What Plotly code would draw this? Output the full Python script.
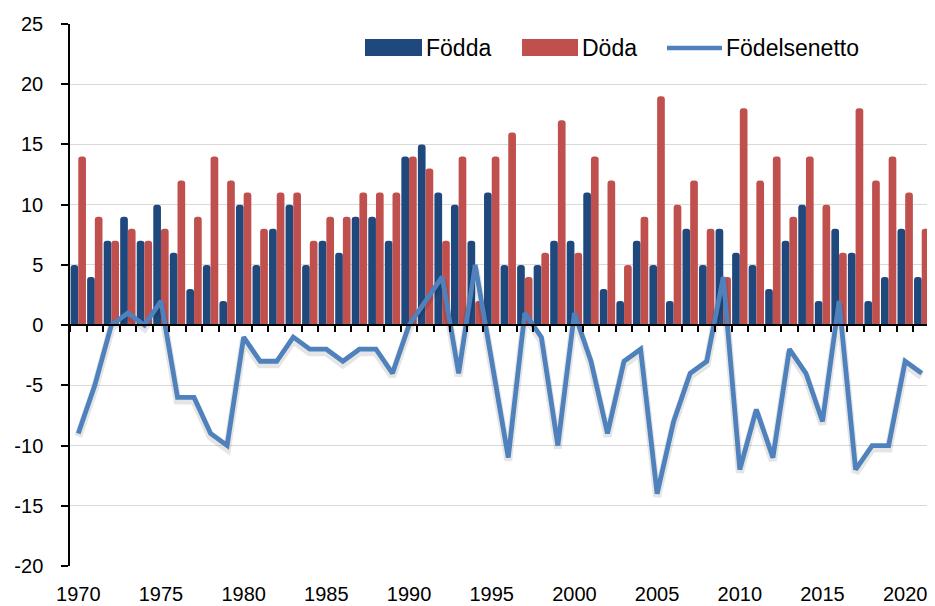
import plotly.graph_objects as go

years = list(range(1970, 2022))
fodda = [5, 4, 7, 9, 7, 10, 6, 3, 5, 2,
         10, 5, 8, 10, 5, 7, 6, 9, 9, 7,
         14, 15, 11, 10, 7, 11, 5, 5, 5, 7,
         7, 11, 3, 2, 7, 5, 2, 8, 5, 8,
         6, 5, 3, 7, 10, 2, 8, 6, 2, 4,
         8, 4]
doda = [14, 9, 7, 8, 7, 8, 12, 9, 14, 12,
        11, 8, 11, 11, 7, 9, 9, 11, 11, 11,
        14, 13, 7, 14, 2, 14, 16, 4, 6, 17,
        6, 14, 12, 5, 9, 19, 10, 12, 8, 4,
        18, 12, 14, 9, 14, 10, 6, 18, 12, 14,
        11, 8]
netto = [-9, -5, 0, 1, 0, 2, -6, -6, -9, -10,
         -1, -3, -3, -1, -2, -2, -3, -2, -2, -4,
         0, 2, 4, -4, 5, -3, -11, 1, -1, -10,
         1, -3, -9, -3, -2, -14, -8, -4, -3, 4,
         -12, -7, -11, -2, -4, -8, 2, -12, -10, -10,
         -3, -4]
label_years = list(range(1970, 2021, 5))
y_ticks = list(range(-20, 26, 5))
y_ticktext = [str(v) for v in y_ticks]  # plain hyphen minus as in the reference

C_FODDA = "#1F497D"
C_DODA = "#C0504D"
C_NETTO = "#4F81BD"
FONT = "Liberation Sans, Arial, sans-serif"

fig = go.Figure()
fig.add_trace(go.Bar(x=years, y=fodda, name="Födda", marker=dict(color=C_FODDA, cornerradius=3, line_width=0),
                     showlegend=False))
fig.add_trace(go.Bar(x=years, y=doda, name="Döda", marker=dict(color=C_DODA, cornerradius=3, line_width=0),
                     showlegend=False))
# soft shadow under line
fig.add_trace(go.Scatter(x=years, y=[v - 0.25 for v in netto], mode="lines",
                         line=dict(color="rgba(0,0,0,0.10)", width=8), hoverinfo="skip", showlegend=False))
fig.add_trace(go.Scatter(x=years, y=netto, mode="lines", name="Födelsenetto",
                         line=dict(color=C_NETTO, width=4.8), showlegend=False))
# helper invisible trace for the zero-crossing category axis
fig.add_trace(go.Scatter(x=[years[0], years[-1]], y=[0, 0], xaxis="x2", mode="markers",
                         marker=dict(opacity=0), hoverinfo="skip", showlegend=False))

xr = [years[0] - 0.5, years[-1] + 0.5]
ymin, ymax = -20, 25

# page body has an 8px default margin; figure sized so plot area lands at x 70..930, y 24..566
W, H = 927, 598
ML, MR, MT, MB = 62, 5, 16, 40

fig.update_layout(
    width=W, height=H,
    margin=dict(l=ML, r=MR, t=MT, b=MB, autoexpand=False),
    paper_bgcolor="white", plot_bgcolor="white",
    barmode="group", bargap=0.07, bargroupgap=0.0,
    font=dict(family=FONT, size=20, color="black"),
    xaxis=dict(range=xr, tickvals=label_years, ticktext=[str(y) for y in label_years],
               showline=False, showgrid=False, zeroline=False, ticks="",
               tickfont=dict(size=20), ticklabelstandoff=14),
    xaxis2=dict(range=xr, overlaying="x", anchor="free", position=(0 - ymin) / (ymax - ymin),
                tickvals=[y - 0.5 for y in years] + [years[-1] + 0.5], showticklabels=False,
                ticks="outside", ticklen=6, tickwidth=1.5, tickcolor="black",
                showline=True, linecolor="black", linewidth=1.5, showgrid=False, zeroline=False),
    yaxis=dict(range=[ymin, ymax], tickvals=y_ticks, ticktext=y_ticktext,
               showgrid=True, gridcolor="#D9D9D9", gridwidth=1,
               zeroline=False, showline=True, linecolor="black", linewidth=1.5,
               ticks="outside", ticklen=7, tickwidth=1.5, tickcolor="black",
               tickfont=dict(size=20), ticklabelstandoff=14),
)

# custom legend (paper coordinates relative to plot area, in screen pixels)
PX0, PX1, PY0, PY1 = 70, 930, 24, 566

def px_x(p):
    return (p - PX0) / (PX1 - PX0)

def px_y(p):
    return (PY1 - p) / (PY1 - PY0)

leg = [("Födda", C_FODDA, "rect", 365, 422, 425),
       ("Döda", C_DODA, "rect", 522, 578, 581),
       ("Födelsenetto", C_NETTO, "line", 667, 722, 725)]
for name, col, kind, x0, x1, tx in leg:
    if kind == "rect":
        fig.add_shape(type="rect", xref="paper", yref="paper", x0=px_x(x0), x1=px_x(x1),
                      y0=px_y(56), y1=px_y(39), fillcolor=col, line=dict(width=0))
    else:
        fig.add_shape(type="line", xref="paper", yref="paper", x0=px_x(x0), x1=px_x(x1),
                      y0=px_y(48), y1=px_y(48), line=dict(color=col, width=4.5))
    fig.add_annotation(text=name, xref="paper", yref="paper", x=px_x(tx), y=px_y(48),
                       xanchor="left", yanchor="middle", showarrow=False,
                       font=dict(family=FONT, size=23, color="black"), borderpad=0)

fig.write_html("out.html")
